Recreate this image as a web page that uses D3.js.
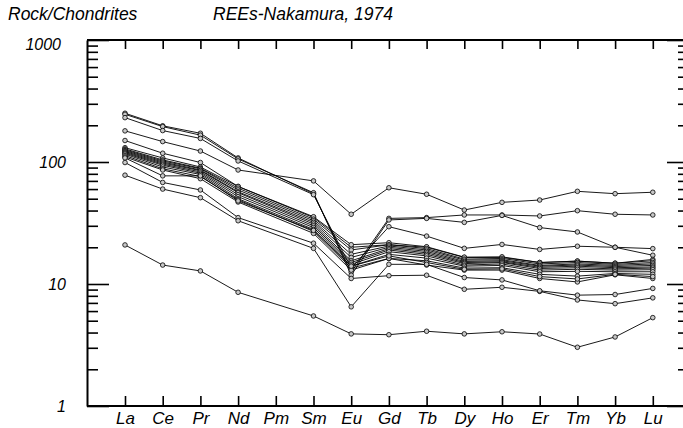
<!DOCTYPE html>
<html>
<head>
<meta charset="utf-8">
<script src="https://cdn.jsdelivr.net/npm/d3@7/dist/d3.min.js"></script>
<style>
  html, body { margin: 0; padding: 0; background: #fff; }
  svg { display: block; }
  text { font-family: "Liberation Sans", Arial, Helvetica, sans-serif; font-style: italic; fill: #000; }
</style>
</head>
<body>
<svg id="chart" width="683" height="428"></svg>
<script>
// Rare earth elements, chondrite-normalised (Nakamura, 1974)
const elements = ["La", "Ce", "Pr", "Nd", "Pm", "Sm", "Eu", "Gd", "Tb", "Dy", "Ho", "Er", "Tm", "Yb", "Lu"];
const yTickLabels = [1, 10, 100, 1000];

// One array per sample, in element order (Pm not analysed -> null)
const s01 = [251, 198, 172, 108, null, 55, 12.5, 34.5, 35, 36.8, 36.8, 36.1, 39.9, 37.3, 36.8];
const s02 = [246, 195, 166, 106, null, 56, 11.8, 33.5, 34.5, 32, 36.5, 29, 26.7, 20, 17.2];
const s03 = [231, 181, 156, 102, null, 54, 13.5, 29.5, 24.7, 19.6, 21.1, 19.2, 20.4, 20, 19.5];
const s04 = [180, 147, 123, 86, null, 70, 37.3, 61.5, 54.4, 40.4, 46.7, 48.8, 57.5, 55, 56.5];
const s05 = [150, 118, 99, 63, null, 35, 20, 21, 20, 16.5, 16.5, 15, 15.4, 14.8, 15.9];
const s06 = [131, 108, 91, 63, null, 35.6, 21, 21.8, 20.2, 16.6, 16.7, 15, 15.4, 14.8, 15.5];
const s07 = [128, 104, 89, 61, null, 34, 19, 21, 19.5, 16, 16.2, 14.6, 15, 14.5, 15];
const s08 = [126, 102, 88, 59, null, 33, 17.5, 20.5, 19, 15.7, 15.8, 14.2, 14.6, 14.2, 14.6];
const s09 = [124, 100, 86, 57, null, 32, 16.5, 20, 18.5, 15.3, 15.5, 14, 14.3, 13.9, 14.2];
const s10 = [122, 98, 85, 56, null, 31, 15.5, 19.5, 18, 15, 15.2, 13.7, 14, 13.6, 13.8];
const s11 = [120, 96, 83, 54, null, 30, 15, 19, 17.5, 14.7, 15, 13.4, 13.6, 13.3, 13.5];
const s12 = [118, 94, 81, 52, null, 29, 14.5, 18.4, 17, 14.3, 14.6, 13, 13.2, 13, 13.1];
const s13 = [116, 91, 79, 50, null, 28, 14, 17.5, 16.3, 14, 14.2, 12.6, 12.7, 12.6, 12.6];
const s14 = [113, 88, 76, 49, null, 27, 13.5, 16.2, 15.5, 13.5, 13.6, 12, 11.6, 12.2, 12];
const s15 = [110, 86, 73, 47, null, 26, 13, 16.2, 14.3, 13, 13, 11.1, 10.4, 11.9, 11.1];
const s16 = [108, 77, 77, 48, null, 27.5, 14, 17, 15, 13.2, 13.3, 11.5, 11, 12, 11.5];
const s17 = [99, 68, 59, 35, null, 21.6, 11.1, 11.7, 11.8, 9.05, 9.4, 8.7, 7.4, 6.9, 7.7];
const s18 = [78, 60, 51, 33, null, 19.6, 6.5, 14.5, 14.5, 11.3, 10.8, 8.8, 8.1, 8.2, 9.2];
const s19 = [20.9, 14.3, 12.8, 8.55, null, 5.47, 3.9, 3.84, 4.1, 3.9, 4.06, 3.89, 3.03, 3.68, 5.3];

const samples = [s01, s02, s03, s04, s05, s06, s07, s08, s09, s10,
                 s11, s12, s13, s14, s15, s16, s17, s18, s19];

const svg = d3.select("#chart");
const frameL = 87, frameR = 689, frameT = 40, frameB = 406;

const x = d3.scalePoint().domain(elements).range([125, 652.8]);
const y = d3.scaleLog().domain([1, 1000]).range([frameB, frameT]);

const majors = yTickLabels;
const minors = [];
[1, 10, 100].forEach(d => { for (let k = 2; k <= 9; k++) minors.push(d * k); });

const axisStyle = g => {
  g.selectAll(".domain").attr("stroke", "#000").attr("stroke-width", 2);
  g.selectAll(".tick line").attr("stroke", "#000").attr("stroke-width", 1.6);
};
const labelStyle = size => g => g.selectAll(".tick text")
  .attr("font-size", size).attr("font-family", "Liberation Sans, Arial, sans-serif")
  .attr("font-style", "italic").attr("fill", "#000");

// bottom axis with element names, ticks pointing up
svg.append("g")
  .attr("transform", `translate(0,${frameB})`)
  .call(d3.axisBottom(x).tickSize(-10).tickSizeOuter(0).tickPadding(6))
  .call(axisStyle)
  .call(g => g.select(".domain").attr("d", `M${frameL},0H${frameR}`))
  .call(labelStyle(17));

// top axis, ticks pointing down
svg.append("g")
  .attr("transform", `translate(0,${frameT})`)
  .call(d3.axisTop(x).tickSize(-9).tickSizeOuter(0).tickFormat(""))
  .call(axisStyle)
  .call(g => g.select(".domain").attr("d", `M${frameL},0H${frameR}`));

// left axis: decades labelled, minor ticks shorter
svg.append("g")
  .attr("transform", `translate(${frameL},0)`)
  .call(d3.axisLeft(y).tickValues(majors).tickSize(-22).tickSizeOuter(0).tickPadding(21)
    .tickFormat(d3.format("d")))
  .call(axisStyle)
  .call(labelStyle(16))
  .call(g => g.selectAll(".tick text")
    .filter(d => d === 1000)
    .attr("dx", -5).attr("dy", "0.62em"));
svg.append("g")
  .attr("transform", `translate(${frameL},0)`)
  .call(d3.axisLeft(y).tickValues(minors).tickSize(-11).tickSizeOuter(0).tickFormat(""))
  .call(axisStyle)
  .call(g => g.select(".domain").remove());

// right axis
svg.append("g")
  .attr("transform", `translate(${frameR},0)`)
  .call(d3.axisRight(y).tickValues(majors).tickSize(-22).tickSizeOuter(0).tickFormat(""))
  .call(axisStyle);
svg.append("g")
  .attr("transform", `translate(${frameR},0)`)
  .call(d3.axisRight(y).tickValues(minors).tickSize(-11).tickSizeOuter(0).tickFormat(""))
  .call(axisStyle)
  .call(g => g.select(".domain").remove());

// sample patterns: Pm is skipped, so Nd joins straight to Sm
const line = d3.line().x(d => x(d.el)).y(d => y(d.v));
const pts = samples.map(s => s.map((v, i) => ({ el: elements[i], v })).filter(d => d.v != null));

const plot = svg.append("g");
plot.selectAll("path.sample")
  .data(pts)
  .join("path")
  .attr("class", "sample")
  .attr("d", line)
  .attr("fill", "none")
  .attr("stroke", "#000")
  .attr("stroke-width", 0.9);

plot.selectAll("g.marks")
  .data(pts)
  .join("g")
  .attr("class", "marks")
  .selectAll("circle")
  .data(d => d)
  .join("circle")
  .attr("cx", d => x(d.el))
  .attr("cy", d => y(d.v))
  .attr("r", 2.3)
  .attr("fill", "#c8c8c8")
  .attr("stroke", "#000")
  .attr("stroke-width", 0.8);

// titles
svg.append("text").attr("x", 8).attr("y", 20).attr("font-size", 17.5).text("Rock/Chondrites");
svg.append("text").attr("x", 213).attr("y", 20).attr("font-size", 17.5).text("REEs-Nakamura, 1974");
</script>
</body>
</html>
